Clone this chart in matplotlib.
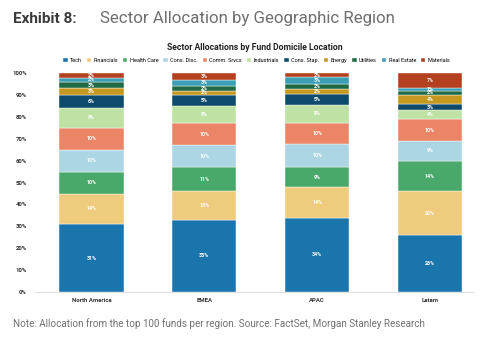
import numpy as np
import matplotlib.pyplot as plt

# ---- data: sector weights (%) per fund domicile region ----
regions = ["North America", "EMEA", "APAC", "Latam"]
sectors = ["Tech", "Financials", "Health Care", "Cons. Disc.", "Comm. Srvcs",
           "Industrials", "Cons. Stap.", "Energy", "Utilities", "Real Estate", "Materials"]

tech        = [31, 33, 34.0, 26]
financials  = [14, 13, 14.0, 20]
health_care = [10, 11, 9.0, 14]
cons_disc   = [10, 10, 10.4, 9]
comm_srvcs  = [10, 10, 10.0, 10]
industrials = [9, 8, 8.0, 4]
cons_stap   = [6, 5, 5.0, 3]
energy      = [3, 2, 2.4, 4]
utilities   = [3, 2, 2.4, 2]
real_estate = [2, 3, 3.0, 1]
materials   = [2, 3, 1.8, 7]

values = [tech, financials, health_care, cons_disc, comm_srvcs, industrials,
          cons_stap, energy, utilities, real_estate, materials]

colors = ["#1a75ad", "#efcb7d", "#4aa96a", "#acd6e4", "#ea8667", "#bde2a4",
          "#0d4a6b", "#c7981f", "#1f6a45", "#3b9db6", "#b3401f"]

plt.rcParams['font.family'] = ['Roboto', 'DejaVu Sans']

fig = plt.figure(figsize=(4.82, 3.37), dpi=100)
fig.text(0.027, 0.945, "Exhibit 8:", fontsize=11, fontweight='bold', color='#3a3a3a', va='center')
fig.text(0.207, 0.945, "Sector Allocation by Geographic Region", fontsize=12.2, color='#6e6e6e', va='center')
fig.text(0.027, 0.04, "Note: Allocation from the top 100 funds per region. Source: FactSet, Morgan Stanley Research",
         fontsize=7.1, color='#707070', va='center')

ax = fig.add_axes([0.073, 0.1335, 0.91, 0.6495])
x = np.arange(len(regions))
bottom = np.zeros(len(regions))
for name, vals, c in zip(sectors, values, colors):
    v = np.array(vals, dtype=float) / 100
    ax.bar(x, v, 0.57, bottom=bottom, color=c, label=name, edgecolor='white', linewidth=0.3)
    for xi, b, h in zip(x, bottom, v):
        ax.text(xi, b + h / 2, f"{round(h * 100):.0f}%", ha='center', va='center',
                fontsize=3.8, color='white', fontweight='bold')
    bottom += v

ax.set_xlim(-0.5, 3.39)
ax.set_ylim(0, 1.0)
ax.set_yticks(np.arange(0, 1.01, 0.1))
ax.set_yticklabels([f"{int(round(t * 100))}%" for t in np.arange(0, 1.01, 0.1)])
ax.set_xticks(x)
ax.set_xticklabels(regions)
for s in ['top', 'right', 'left']:
    ax.spines[s].set_visible(False)
ax.spines['bottom'].set_color('#d9d9d9')
ax.spines['bottom'].set_linewidth(0.6)
ax.tick_params(axis='both', length=0, labelsize=4.3, colors='#333333')
for lab in ax.get_xticklabels() + ax.get_yticklabels():
    lab.set_fontweight('bold')
ax.tick_params(axis='x', pad=4)
ax.tick_params(axis='y', pad=6)

ax.set_title("Sector Allocations by Fund Domicile Location", fontsize=6.2, fontweight='bold',
             color='#222222', pad=16.5, x=0.5)
ax.legend(loc='lower center', bbox_to_anchor=(0.505, 1.035), ncol=11, frameon=False,
          fontsize=4.0, handlelength=0.8, handleheight=0.8, handletextpad=0.4, columnspacing=0.9,
          borderaxespad=0)

fig.savefig("out.png", dpi=100)
